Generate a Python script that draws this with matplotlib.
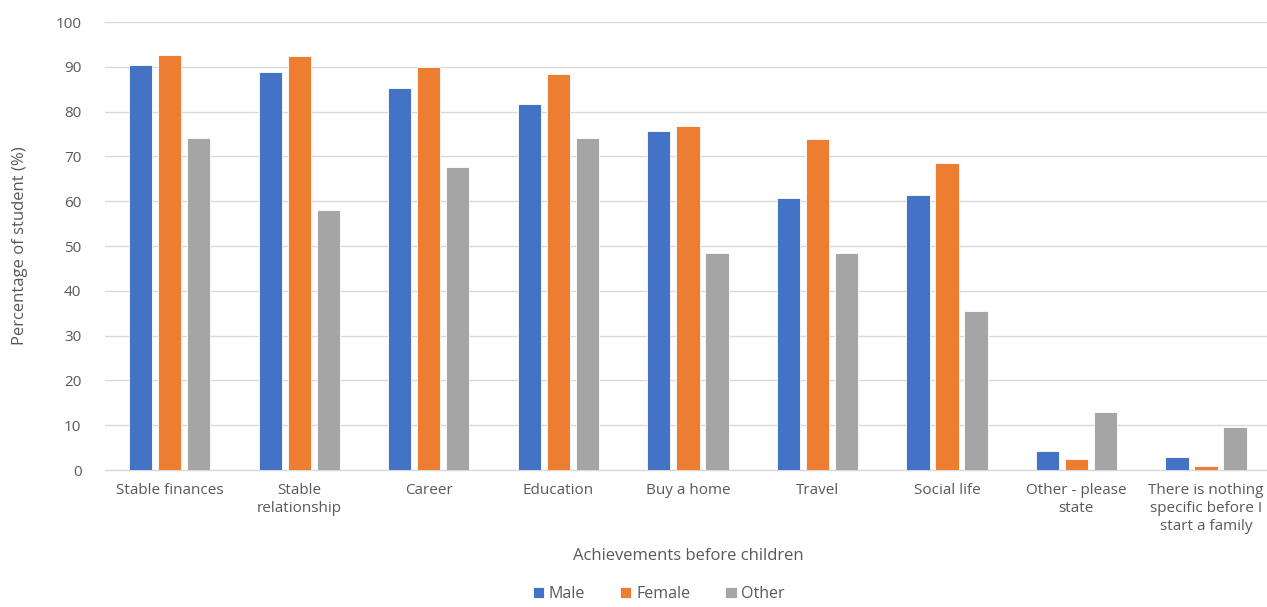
import numpy as np
import matplotlib.pyplot as plt

plt.rcParams['font.family'] = ['Open Sans', 'DejaVu Sans']

# Survey results by gender
categories = ['Stable finances', 'Stable\nrelationship', 'Career', 'Education',
              'Buy a home', 'Travel', 'Social life', 'Other - please\nstate',
              'There is nothing\nspecific before I\nstart a family']
male = [90.4, 88.8, 85.2, 81.6, 75.6, 60.7, 61.5, 4.3, 3.0]
female = [92.7, 92.4, 89.9, 88.5, 76.7, 73.9, 68.5, 2.5, 1.0]
other = [74.2, 58.1, 67.7, 74.2, 48.4, 48.4, 35.5, 12.9, 9.7]
series_names = ['Male', 'Female', 'Other']
colors = ['#4472C4', '#ED7D31', '#A5A5A5']

text_color = '#595959'

fig = plt.figure(figsize=(12.67, 6.07), dpi=100)
ax = fig.add_axes([0.0829, 0.2257, 0.92, 0.738])

x = np.arange(len(categories))
step = 0.224
width = 0.18
for i, (vals, name, c) in enumerate(zip([male, female, other], series_names, colors)):
    ax.bar(x + (i - 1) * step, vals, width, color=c, label=name,
           edgecolor='white', linewidth=0.6, zorder=3)

ax.set_xlim(-0.5, len(categories) - 0.5)
ax.set_ylim(0, 100)
ax.set_yticks(range(0, 101, 10))
ax.grid(axis='y', color='#D9D9D9', linewidth=1, zorder=0)
for s in ['top', 'right', 'left']:
    ax.spines[s].set_visible(False)
ax.spines['bottom'].set_color('#D9D9D9')
ax.spines['bottom'].set_linewidth(1)
ax.tick_params(axis='both', length=0, colors=text_color, labelsize=11)
ax.tick_params(axis='y', pad=17)
ax.tick_params(axis='x', pad=9)
ax.set_xticks(x)
ax.set_xticklabels(categories, linespacing=1.3)

ax.set_ylabel('Percentage of student (%)', color=text_color, fontsize=12, labelpad=20)
ax.set_xlabel('Achievements before children', color=text_color, fontsize=12, labelpad=10)

fig.legend(loc='lower center', bbox_to_anchor=(0.52, -0.016), ncol=3, frameon=False,
           handlelength=0.7, handleheight=0.7, handletextpad=0.3, columnspacing=2.2,
           labelcolor=text_color, fontsize=11.5)

plt.savefig('out.png', dpi=100)
